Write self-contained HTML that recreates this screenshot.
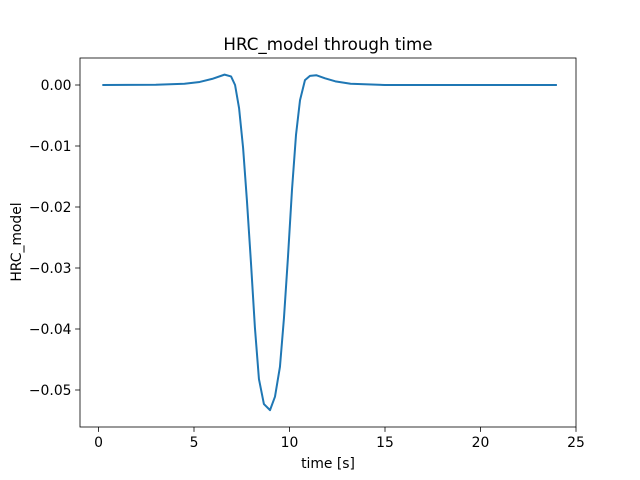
<!DOCTYPE html>
<html><head><meta charset="utf-8"><style>body{margin:0;background:#fff}svg{display:block;font-family:"DejaVu Sans","Liberation Sans",sans-serif}</style></head>
<body>
<svg id="chart" width="640" height="480" xmlns="http://www.w3.org/2000/svg">
<rect width="640" height="480" fill="#fff"/>
<text x="328" y="50" font-size="16.7" text-anchor="middle">HRC_model through time</text>
<g id="plot"></g>
<rect x="80" y="58" width="496" height="369" fill="none" stroke="#000" stroke-width="0.8"/>
<text x="328" y="468" font-size="13.9" text-anchor="middle">time [s]</text>
<text transform="translate(21,242) rotate(-90)" font-size="13.9" text-anchor="middle">HRC_model</text>
</svg>
<script>
const times=[0.2,3,4.5,5.3,5.95,6.6,6.94,7.15,7.36,7.57,7.77,7.98,8.19,8.4,8.66,8.98,9.24,9.5,9.71,9.92,10.13,10.34,10.55,10.81,11.07,11.4,11.86,12.4,13.2,15,24];
const values=[0,0.00005,0.0002,0.0005,0.001,0.0017,0.0014,0,-0.0038,-0.0103,-0.0189,-0.029,-0.0398,-0.0482,-0.0523,-0.0533,-0.0511,-0.0462,-0.0382,-0.0282,-0.0172,-0.0082,-0.0025,0.0008,0.0015,0.0016,0.0011,0.0006,0.0002,0,0];
const xTicks=[0,5,10,15,20,25];
const yTicks=[0,-0.01,-0.02,-0.03,-0.04,-0.05];
const yTickLabels=["0.00","−0.01","−0.02","−0.03","−0.04","−0.05"];
const X=t=>98.5+t*19.1;
const Y=v=>85-v*6100;
const g=document.getElementById('plot');
const NS='http://www.w3.org/2000/svg';
function mk(tag,attrs){const e=document.createElementNS(NS,tag);for(const k in attrs)e.setAttribute(k,attrs[k]);g.appendChild(e);return e;}
xTicks.forEach(t=>{
 const l=mk('line',{x1:X(t),x2:X(t),y1:427,y2:431.9,stroke:'#000','stroke-width':0.8});
 
 
 const tx=mk('text',{x:X(t),y:447,'font-size':13.9,'text-anchor':'middle'});tx.textContent=t;
 
 
});
yTicks.forEach((v,i)=>{
 const l=mk('line',{x1:75.1,x2:80,y1:Y(v),y2:Y(v),stroke:'#000','stroke-width':0.8});
 
 
 const tx=mk('text',{x:71.5,y:Y(v)+5,'font-size':13.9,'text-anchor':'end'});tx.textContent=yTickLabels[i];
 
 
});
const p=mk('polyline',{points:times.map((t,i)=>X(t)+','+Y(values[i])).join(' '),fill:'none',stroke:'#1f77b4','stroke-width':2,'stroke-linejoin':'round'});


</script>
</body></html>
